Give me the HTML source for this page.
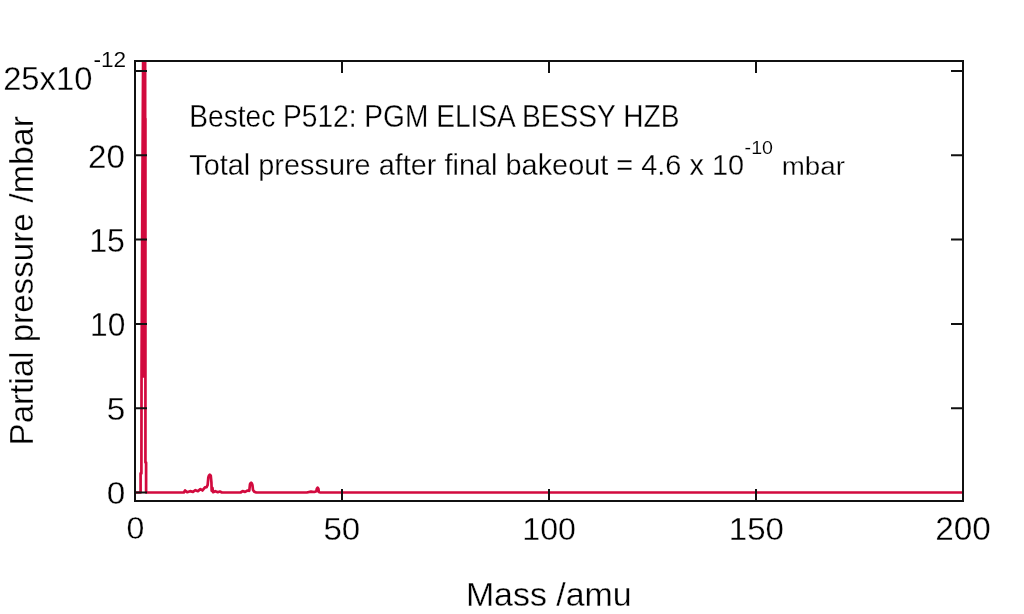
<!DOCTYPE html>
<html><head><meta charset="utf-8">
<style>
html,body{margin:0;padding:0;background:#fff;}
body{width:1024px;height:614px;overflow:hidden;}
svg{display:block;will-change:transform;}
.sup{stroke-width:0.1px;}
text{font-family:"Liberation Sans",sans-serif;fill:#000;stroke:#fff;stroke-width:0.3px;}
</style></head><body>
<svg width="1024" height="614" viewBox="0 0 1024 614">
<defs><clipPath id="c"><rect x="135.0" y="61" width="828.0" height="440"/></clipPath></defs>
<rect width="1024" height="614" fill="#fff"/>
<g clip-path="url(#c)"><path fill="#d20a3e" d="M141.54 377.68 L142.33 200.99 L143.24 37.28 L145.14 37.28 L145.14 118.55 L145.43 118.55 L145.43 377.68Z"/><path fill="none" stroke="#d20a3e" stroke-width="2.7" stroke-linejoin="round" d="M135.00 492.50 L140.60 492.50 L140.60 473.40 L141.40 473.40 L141.54 377.68 L142.33 200.99 L143.24 37.28 L145.14 37.28 L145.14 118.55 L145.43 118.55 L145.43 462.49 L146.10 462.49 L146.10 492.50 L183.85 492.50 L185.09 490.48 L187.16 492.16 L190.06 491.15 L192.96 491.83 L195.44 490.14 L197.93 491.15 L200.41 489.13 L202.48 490.48 L204.97 487.44 L206.62 487.10 L207.66 484.91 L208.32 477.33 L208.90 475.64 L209.81 474.63 L210.76 475.64 L211.42 482.38 L211.67 490.81 L212.42 487.78 L213.04 492.16 L215.32 491.15 L217.80 492.16 L219.87 491.49 L221.94 492.50 L240.57 492.50 L242.64 491.15 L245.12 491.83 L247.61 490.48 L249.26 490.81 L250.01 484.07 L250.51 483.23 L251.13 482.72 L251.75 483.23 L252.41 484.91 L252.99 489.97 L254.23 491.66 L256.30 492.50 L306.81 492.50 L310.95 491.66 L314.26 491.99 L316.33 491.15 L316.83 488.79 L317.57 487.61 L318.40 488.79 L318.82 491.99 L320.47 492.50 L963.00 492.50"/></g>
<rect x="135.0" y="61" width="828.0" height="440" fill="none" stroke="#111" stroke-width="2"/>
<path stroke="#111" stroke-width="2" fill="none" d="M135.0 492.50h12M135.0 408.20h12M963.0 408.20h-12M135.0 323.90h12M963.0 323.90h-12M135.0 239.60h12M963.0 239.60h-12M135.0 155.30h12M963.0 155.30h-12M135.0 71.00h12M963.0 71.00h-12M342.00 501v-12M342.00 61v12M549.00 501v-12M549.00 61v12M756.00 501v-12M756.00 61v12"/>
<text transform="translate(3.16,89.80) scale(1.0007,1)" font-size="32.71">25x10</text>
<text class="sup" transform="translate(93.39,66.60) scale(1.0294,1)" font-size="22.00">-12</text>
<text transform="translate(87.94,167.70) scale(1.0159,1)" font-size="32.71">20</text>
<text transform="translate(89.13,252.30) scale(0.9862,1)" font-size="32.57">15</text>
<text transform="translate(90.06,336.30) scale(0.9695,1)" font-size="32.71">10</text>
<text transform="translate(106.66,420.10) scale(1.0439,1)" font-size="32.00">5</text>
<text transform="translate(106.67,504.00) scale(1.0519,1)" font-size="31.69">0</text>
<text transform="translate(126.42,539.40) scale(0.9991,1)" font-size="32.11">0</text>
<text transform="translate(323.38,539.60) scale(1.0392,1)" font-size="31.86">50</text>
<text transform="translate(522.33,539.60) scale(1.0085,1)" font-size="31.86">100</text>
<text transform="translate(728.86,539.60) scale(1.0369,1)" font-size="31.86">150</text>
<text transform="translate(935.23,539.50) scale(1.0151,1)" font-size="32.86">200</text>
<text transform="translate(465.89,605.90) scale(1.0215,1)" font-size="33.19">Mass /amu</text>
<text transform="translate(189.25,127.00) scale(0.9112,1)" font-size="30.87">Bestec P512: PGM ELISA BESSY HZB</text>
<text transform="translate(189.22,174.80) scale(0.9588,1)" font-size="30.14">Total pressure after final bakeout = 4.6 x 10</text>
<text class="sup" transform="translate(744.61,153.70) scale(1.0738,1)" font-size="18.29">-10</text>
<text transform="translate(781.76,174.80) scale(1.0484,1)" font-size="26.44">mbar</text>
<text transform="translate(32.7,445.45) rotate(-90) scale(0.9860,1)" font-size="33.62">Partial pressure</text>
<text transform="translate(32.7,202.80) rotate(-90) scale(1.0105,1)" font-size="33.62">/mbar</text>
</svg>
</body></html>
